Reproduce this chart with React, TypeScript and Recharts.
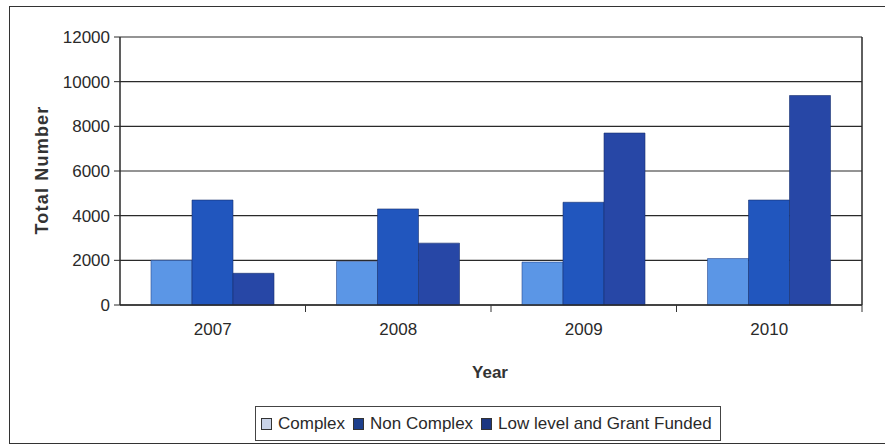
import { BarChart, Bar, XAxis, YAxis, CartesianGrid } from 'recharts';

const years = ['2007', '2008', '2009', '2010'];
const complex = [2000, 1950, 1920, 2080];
const nonComplex = [4700, 4300, 4600, 4700];
const lowLevel = [1420, 2770, 7700, 9380];
const yTicks = [0, 2000, 4000, 6000, 8000, 10000, 12000];

const data = years.map((year, i) => ({
  year,
  complex: complex[i],
  nonComplex: nonComplex[i],
  lowLevel: lowLevel[i],
}));

const FONT = '"Liberation Sans", Arial, sans-serif';
const W = 885;
const H = 447;
const M = { top: 37, right: 21, bottom: 112, left: 60 };
const BAND = (862 - 120) / years.length;

const colors = {
  complex: '#5b96e6',
  nonComplex: '#2156be',
  lowLevel: '#2747a6',
};

// year label plus the small tick mark on the category boundary
const XTick = (props: any) => {
  const { x, y, payload } = props;
  const axisY = y - 14;
  return (
    <g>
      <line x1={x + BAND / 2} x2={x + BAND / 2} y1={axisY} y2={axisY + 7} stroke="#333" strokeWidth={1} />
      <text x={x} y={y} dy={16} textAnchor="middle" fontSize={17} fill="#2a2a2a" fontFamily={FONT}>
        {payload.value}
      </text>
    </g>
  );
};

const legendItems = [
  { label: 'Complex', color: '#c9d3e8' },
  { label: 'Non Complex', color: '#1d3f8c' },
  { label: 'Low level and Grant Funded', color: '#1c3680' },
];

export default function App() {
  return (
    <div style={{ position: 'absolute', left: 0, top: 0, width: W, height: H, background: '#fff', fontFamily: FONT, overflow: 'hidden' }}>
      <div style={{ position: 'absolute', left: 9, top: 6, width: 900, height: 436, borderLeft: '1.5px solid #333', borderTop: '1.5px solid #333', borderBottom: '1.5px solid #333' }} />
      <BarChart
        width={W}
        height={H}
        data={data}
        margin={M}
        barCategoryGap={31}
        barGap={0}
        style={{ position: 'absolute', left: 0, top: 0 }}
      >
        <CartesianGrid vertical={false} stroke="#2a2a2a" strokeWidth={1.2} />
        <XAxis
          dataKey="year"
          height={30}
          tickSize={0}
          tickMargin={14}
          tick={<XTick />}
          axisLine={{ stroke: '#2a2a2a', strokeWidth: 1.5 }}
          tickLine={false}
        />
        <YAxis
          domain={[0, 12000]}
          ticks={yTicks}
          width={60}
          tickSize={6}
          tickMargin={4}
          interval={0}
          axisLine={{ stroke: '#2a2a2a', strokeWidth: 1.5 }}
          tickLine={{ stroke: '#2a2a2a' }}
          tick={{ fontSize: 17, fill: '#2a2a2a', fontFamily: FONT }}
        />
        <YAxis
          yAxisId="r"
          orientation="right"
          width={2}
          tick={false}
          tickLine={false}
          axisLine={{ stroke: '#2a2a2a', strokeWidth: 1.5 }}
        />
        <Bar dataKey="complex" fill={colors.complex} stroke="#2a4a90" strokeWidth={0.6} isAnimationActive={false} />
        <Bar dataKey="nonComplex" fill={colors.nonComplex} stroke="#17306e" strokeWidth={0.6} isAnimationActive={false} />
        <Bar dataKey="lowLevel" fill={colors.lowLevel} stroke="#17306e" strokeWidth={0.6} isAnimationActive={false} />
      </BarChart>
      <div
        style={{
          position: 'absolute',
          left: 42,
          top: 170,
          transform: 'translate(-50%, -50%) rotate(-90deg)',
          fontSize: 18,
          fontWeight: 700,
          color: '#333',
          whiteSpace: 'nowrap',
          letterSpacing: 1.2,
        }}
      >
        Total Number
      </div>
      <div
        style={{
          position: 'absolute',
          left: 490,
          top: 373,
          transform: 'translate(-50%, -50%)',
          fontSize: 17,
          fontWeight: 700,
          color: '#333',
          whiteSpace: 'nowrap',
        }}
      >
        Year
      </div>
      <div
        style={{
          position: 'absolute',
          left: 255,
          top: 406,
          width: 466,
          height: 35,
          border: '1px solid #444',
          boxSizing: 'border-box',
          display: 'flex',
          alignItems: 'center',
          paddingLeft: 5,
          fontSize: 17,
          color: '#2a2a2a',
          whiteSpace: 'nowrap',
        }}
      >
        {legendItems.map((it) => (
          <span key={it.label} style={{ display: 'flex', alignItems: 'center', marginRight: 8 }}>
            <span style={{ width: 9, height: 10, background: it.color, border: '1px solid #333', marginRight: 6, display: 'inline-block' }} />
            {it.label}
          </span>
        ))}
      </div>
    </div>
  );
}
